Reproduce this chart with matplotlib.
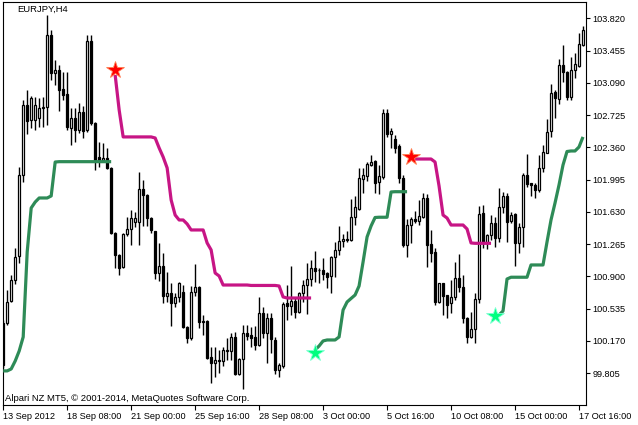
import matplotlib
matplotlib.use("Agg")
import matplotlib.pyplot as plt
import numpy as np

# --- EURJPY H4 bars, 13 Sep 2012 16:00 .. 17 Oct 2012 20:00 ---
opens = [
    100.371, 100.371, 100.621, 100.858, 101.130, 102.046, 102.838, 102.669, 102.669, 102.691,
    102.804, 102.816, 103.630, 103.201, 103.235, 103.020, 102.964, 102.578, 102.691, 102.556,
    102.759, 102.556, 103.563, 102.635, 102.250, 102.216, 102.239, 102.126, 101.390, 101.141,
    101.005, 101.379, 101.435, 101.514, 101.514, 101.888, 101.820, 101.559, 101.413, 100.937,
    101.016, 100.677, 100.711, 100.598, 100.666, 100.722, 100.326, 100.201, 100.722, 100.779,
    100.394, 100.394, 99.987, 99.919, 99.953, 99.936, 100.055, 100.058, 100.213, 99.794,
    99.964, 100.258, 100.235, 100.213, 100.122, 100.484, 100.258, 100.428, 100.179, 99.840,
    99.885, 100.598, 100.564, 100.621, 100.496, 100.711, 100.801, 100.869, 100.993, 100.971,
    100.971, 100.937, 100.903, 101.119, 101.198, 101.300, 101.322, 101.311, 101.571, 101.661,
    102.001, 102.038, 102.159, 102.205, 101.967, 102.024, 102.748, 102.511, 102.454, 102.375,
    102.012, 101.254, 101.480, 101.548, 101.529, 101.575, 101.786, 101.266, 101.170, 100.613,
    100.824, 100.688, 100.598, 100.666, 100.881, 100.779, 100.428, 100.213, 100.303, 100.643,
    101.616, 101.277, 101.367, 101.503, 101.333, 101.684, 101.809, 101.529, 101.605, 101.277,
    101.458, 102.046, 101.952, 101.933, 101.877, 102.126, 102.299, 102.545, 102.990, 102.907,
    103.291, 103.216, 102.933, 103.235, 103.280, 103.518,
]
highs = [
    100.405, 100.745, 100.914, 101.220, 102.137, 102.895, 103.009, 102.941, 102.930, 102.918,
    102.930, 103.857, 103.687, 103.348, 103.291, 103.212, 103.212, 102.804, 102.804, 102.861,
    102.827, 103.630, 103.630, 102.646, 102.420, 102.409, 102.352, 102.137, 101.401, 101.153,
    101.390, 101.571, 101.650, 101.627, 102.080, 101.990, 101.832, 101.571, 101.413, 101.277,
    101.164, 100.948, 100.824, 100.711, 100.835, 100.801, 100.337, 100.790, 101.039, 100.790,
    100.462, 100.405, 100.100, 100.100, 100.066, 100.100, 100.201, 100.258, 100.269, 99.975,
    100.348, 100.348, 100.326, 100.337, 100.666, 100.553, 100.484, 100.484, 100.213, 99.919,
    100.609, 100.801, 101.016, 100.654, 100.722, 100.858, 101.050, 101.084, 101.187, 100.993,
    101.107, 100.948, 101.130, 101.288, 101.469, 101.379, 101.413, 101.775, 101.809, 102.126,
    102.126, 102.193, 102.273, 102.216, 102.159, 102.793, 102.793, 102.578, 102.499, 102.398,
    102.046, 101.548, 101.571, 101.639, 101.763, 101.843, 101.832, 101.424, 101.220, 100.828,
    100.828, 100.688, 100.858, 101.062, 101.153, 100.914, 100.439, 100.496, 100.711, 101.695,
    101.706, 101.379, 101.593, 101.571, 101.900, 101.854, 101.843, 101.627, 101.616, 101.503,
    102.069, 102.284, 101.956, 101.956, 102.273, 102.386, 102.680, 103.077, 103.009, 103.359,
    103.518, 103.227, 103.382, 103.427, 103.654, 103.733,
]
lows = [
    99.862, 100.348, 100.609, 100.813, 101.050, 101.967, 102.511, 102.578, 102.556, 102.590,
    102.590, 102.612, 103.122, 103.065, 102.771, 102.895, 102.556, 102.386, 102.420, 102.522,
    102.465, 102.533, 102.612, 102.103, 102.137, 102.193, 102.114, 101.379, 100.993, 100.914,
    100.993, 101.356, 101.254, 101.458, 101.254, 101.469, 101.469, 101.390, 100.869, 100.847,
    100.598, 100.609, 100.337, 100.553, 100.609, 100.315, 100.145, 100.179, 100.677, 100.315,
    100.235, 99.964, 99.692, 99.760, 99.806, 99.885, 99.953, 99.953, 99.783, 99.783,
    99.624, 100.179, 100.100, 100.066, 100.111, 100.201, 99.919, 100.032, 99.794, 99.760,
    99.862, 100.405, 100.462, 100.428, 100.484, 100.609, 100.473, 100.790, 100.835, 100.824,
    100.858, 100.767, 100.711, 100.892, 101.141, 101.232, 101.288, 101.300, 101.480, 101.650,
    101.843, 101.979, 102.148, 101.843, 101.832, 102.001, 102.477, 102.352, 102.295, 101.956,
    101.232, 101.119, 101.277, 101.503, 101.480, 101.559, 101.005, 101.062, 100.575, 100.601,
    100.462, 100.428, 100.484, 100.632, 100.722, 100.371, 100.145, 100.201, 100.145, 100.598,
    101.220, 101.209, 101.311, 101.232, 101.288, 101.616, 101.288, 101.503, 101.016, 101.164,
    101.232, 101.911, 101.809, 101.786, 101.854, 102.080, 102.295, 102.477, 102.691, 102.850,
    103.099, 102.895, 102.895, 103.144, 103.269, 103.506,
]
closes = [
    99.896, 100.609, 100.858, 101.119, 102.046, 102.838, 102.658, 102.918, 102.838, 102.804,
    102.821, 103.630, 103.201, 103.235, 103.009, 102.952, 102.590, 102.691, 102.556, 102.759,
    102.545, 103.563, 102.635, 102.216, 102.210, 102.239, 102.126, 101.390, 101.141, 100.993,
    101.379, 101.435, 101.559, 101.559, 101.888, 101.820, 101.559, 101.424, 100.937, 101.016,
    100.677, 100.711, 100.598, 100.666, 100.824, 100.326, 100.201, 100.722, 100.779, 100.382,
    100.388, 99.975, 99.919, 99.953, 99.936, 100.066, 100.066, 100.213, 99.794, 99.964,
    100.258, 100.224, 100.201, 100.122, 100.484, 100.258, 100.428, 100.190, 99.840, 99.896,
    100.587, 100.564, 100.621, 100.496, 100.711, 100.801, 100.869, 100.993, 100.960, 100.968,
    100.926, 100.892, 101.119, 101.198, 101.300, 101.322, 101.305, 101.571, 101.684, 102.012,
    102.046, 102.171, 102.193, 101.956, 102.035, 102.748, 102.511, 102.545, 102.352, 102.012,
    101.254, 101.480, 101.548, 101.531, 101.582, 101.786, 101.254, 101.167, 100.613, 100.824,
    100.677, 100.575, 100.666, 100.881, 100.779, 100.428, 100.213, 100.303, 100.643, 101.605,
    101.277, 101.367, 101.503, 101.333, 101.684, 101.809, 101.514, 101.593, 101.277, 101.458,
    102.046, 101.945, 101.933, 101.877, 102.126, 102.307, 102.533, 102.975, 102.915, 103.291,
    103.216, 102.933, 103.235, 103.303, 103.526, 103.687,
]

# trailing stop lines (segments start at the given bar)
sell_trail_starts = [28, 102]
sell_trail = [
    [103.178, 102.782, 102.477, 102.477, 102.477, 102.477, 102.477, 102.477, 102.477, 102.477,
     102.465, 102.352, 102.250, 102.126, 101.763, 101.593, 101.537, 101.537, 101.492, 101.424,
     101.424, 101.424, 101.424, 101.277, 101.198, 100.937, 100.903,
     100.801, 100.801, 100.801, 100.801, 100.801, 100.801, 100.801,
     100.796, 100.796, 100.796, 100.796, 100.796, 100.796, 100.796,
     100.790, 100.666, 100.654, 100.654, 100.654, 100.654, 100.654, 100.654, 100.654],
    [102.227, 102.227, 102.227, 102.227, 102.227, 102.227, 102.193, 101.922, 101.593, 101.559,
     101.480, 101.480, 101.480, 101.480, 101.435, 101.277, 101.273, 101.273, 101.273, 101.273,
     101.273],
]
buy_trail_starts = [0, 78, 123]
buy_trail = [
    [99.829, 99.829, 99.851, 99.941, 100.055, 100.213, 101.175, 101.673, 101.740, 101.786,
     101.786, 101.786, 101.809, 102.193, 102.197, 102.197, 102.197, 102.197, 102.197, 102.197,
     102.197, 102.197, 102.197, 102.197, 102.197, 102.197, 102.197, 102.197],
    [100.066, 100.111, 100.168, 100.179, 100.179, 100.179, 100.213, 100.518, 100.609, 100.649,
     100.688, 100.790, 101.062, 101.345, 101.469, 101.565, 101.568, 101.568, 101.568, 101.854,
     101.857, 101.857, 101.857, 101.857],
    [100.450, 100.462, 100.507, 100.869, 100.889, 100.889, 100.889, 100.889, 100.889, 101.028,
     101.028, 101.028, 101.028, 101.288, 101.537, 101.729, 101.933, 102.159, 102.312, 102.318,
     102.318, 102.363, 102.477],
]

# signal arrows
sell_signal_bars = [28, 102]
sell_signal_prices = [103.235, 102.253]
buy_signal_bars = [78, 123]
buy_signal_prices = [100.029, 100.450]

# axis labels
price_ticks = [99.805, 100.170, 100.535, 100.900, 101.265, 101.630, 101.995,
               102.360, 102.725, 103.090, 103.455, 103.820]
time_tick_bars = [0, 16, 32, 48, 64, 80, 96, 112, 128, 144]
time_tick_labels = ["13 Sep 2012", "18 Sep 08:00", "21 Sep 00:00", "25 Sep 16:00",
                    "28 Sep 08:00", "3 Oct 00:00", "5 Oct 16:00", "10 Oct 08:00",
                    "15 Oct 00:00", "17 Oct 16:00"]

plt.rcParams['font.family'] = ['Liberation Sans', 'DejaVu Sans']

fig = plt.figure(figsize=(6.38, 4.25), dpi=100)
ax = fig.add_axes([3 / 638, 20 / 425, 583 / 638, 403 / 425])

o = np.array(opens)
h = np.array(highs)
l = np.array(lows)
c = np.array(closes)
x = np.arange(len(o))

# candles: wick first, then body on top
ax.vlines(x, l, h, color='black', lw=1.0, zorder=1)
body_low = np.minimum(o, c)
body_h = np.maximum(np.abs(c - o), 0.004)
body_col = ['white' if cc >= oo else 'black' for oo, cc in zip(o, c)]
ax.bar(x, body_h, bottom=body_low, width=0.62, color=body_col,
       edgecolor='black', linewidth=0.9, zorder=2)

for start, vals in zip(sell_trail_starts, sell_trail):
    xs = np.arange(start, start + len(vals))
    ax.plot(xs, vals, color='#C71585', lw=2.3, zorder=3, solid_capstyle='butt')
for start, vals in zip(buy_trail_starts, buy_trail):
    xs = np.arange(start, start + len(vals))
    ax.plot(xs, vals, color='#2E8B57', lw=2.3, zorder=3, solid_capstyle='butt')

ax.plot(sell_signal_bars, sell_signal_prices, ls='none', marker='*', ms=13,
        mfc='#FF0000', mec='#FF7F50', mew=0.6, zorder=4)
ax.plot(buy_signal_bars, buy_signal_prices, ls='none', marker='*', ms=13,
        mfc='#00FF7F', mec='#7FFFD4', mew=0.6, zorder=4)

ax.set_xlim(-0.05, 145.75)
ax.set_ylim(99.443, 104.004)

ax.yaxis.tick_right()
ax.set_yticks(price_ticks)
ax.set_yticklabels(["%.3f" % p for p in price_ticks])
ax.tick_params(axis='y', direction='out', length=2.8, width=0.8, pad=2,
               labelsize=6.6, colors='black')

ax.set_xticks(time_tick_bars)
ax.set_xticklabels(time_tick_labels)
ax.tick_params(axis='x', direction='out', length=3.5, width=0.8, pad=1.5,
               labelsize=6.6, colors='black')
for lab in ax.get_xticklabels():
    lab.set_ha('left')

for sp in ax.spines.values():
    sp.set_linewidth(0.8)
    sp.set_color('black')

fig.text(17 / 638, 1 - 5 / 425, "EURJPY,H4", fontsize=6.8, va='top', ha='left')
fig.text(5 / 638, 1 - 401 / 425, "Alpari NZ MT5, \u00a9 2001-2014, MetaQuotes Software Corp.",
         fontsize=6.8, va='baseline', ha='left')

fig.savefig("out.png", dpi=100)
